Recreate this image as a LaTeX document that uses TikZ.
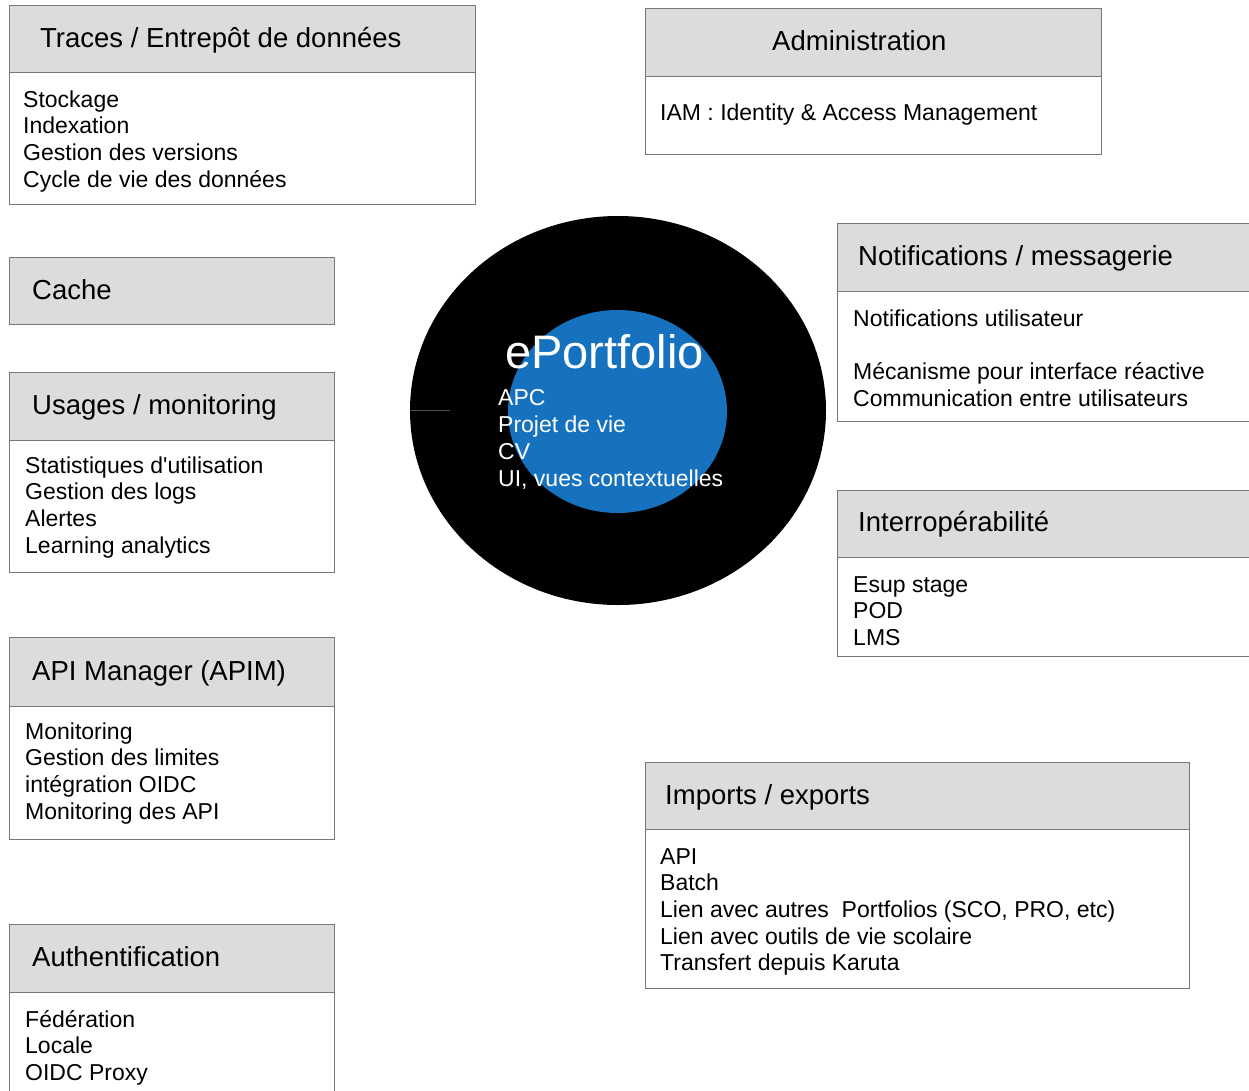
\documentclass[tikz,border=0pt]{standalone}
\usepackage{fontspec}
\setmainfont{Liberation Sans}
\usetikzlibrary{shapes.geometric}
\definecolor{hdrgray}{RGB}{220,220,220}
\definecolor{edgegray}{RGB}{120,120,120}
\definecolor{coreblue}{RGB}{22,114,190}
\tikzset{
  hdrbox/.style={draw=edgegray, fill=hdrgray, line width=1.3pt, anchor=north west, inner sep=0pt},
  bodybox/.style={draw=edgegray, fill=white, line width=1.3pt, anchor=north west, inner sep=0pt},
  hdrtext/.style={anchor=base west, inner sep=0pt, font=\fontsize{27.5}{33}\selectfont, text=black},
  bodytext/.style={anchor=base west, inner sep=0pt, align=left, font=\fontsize{23}{26.7}\selectfont, text=black},
}
\begin{document}
\begin{tikzpicture}[x=1pt,y=-1pt]
\useasboundingbox (0,0) rectangle (1249,1090);
\clip (0,0) rectangle (1249,1090);
\fill[white] (0,0) rectangle (1249,1090);

% Traces
\node[bodybox, minimum width=466pt, minimum height=199pt] (tracesbox) at (9,5) {};
\node[hdrbox, minimum width=466pt, minimum height=67pt] (tracesh) at (9,5) {};
\node[hdrtext] (tracest) at (40,47) {Traces / Entrepôt de données};
\node[bodytext] (tracesb) at (23,187.1) {Stockage\\Indexation\\Gestion des versions\\Cycle de vie des données};

% Administration
\node[bodybox, minimum width=456pt, minimum height=146pt] (adminbox) at (645,8) {};
\node[hdrbox, minimum width=456pt, minimum height=68pt] (adminh) at (645,8) {};
\node[hdrtext] (admint) at (772,50) {Administration};
\node[bodytext] (adminb) at (660,120) {IAM : Identity \& Access Management};

% Cache
\node[hdrbox, minimum width=325pt, minimum height=67pt] (cacheh) at (9,257) {};
\node[hdrtext] (cachet) at (32,299) {Cache};

% Usages
\node[bodybox, minimum width=325pt, minimum height=200pt] (usagesbox) at (9,372) {};
\node[hdrbox, minimum width=325pt, minimum height=68pt] (usagesh) at (9,372) {};
\node[hdrtext] (usagest) at (32,414) {Usages / monitoring};
\node[bodytext] (usagesb) at (25,553.1) {Statistiques d\textquotesingle utilisation\\Gestion des logs\\Alertes\\Learning analytics};

% API Manager
\node[bodybox, minimum width=325pt, minimum height=202pt] (apibox) at (9,637) {};
\node[hdrbox, minimum width=325pt, minimum height=69pt] (apih) at (9,637) {};
\node[hdrtext] (apit) at (32,680) {API Manager (APIM)};
\node[bodytext] (apib) at (25,819.1) {Monitoring\\Gestion des limites\\intégration OIDC\\Monitoring des API};

% Authentification
\node[bodybox, minimum width=325pt, minimum height=200pt] (authbox) at (9,924) {};
\node[hdrbox, minimum width=325pt, minimum height=68pt] (authh) at (9,924) {};
\node[hdrtext] (autht) at (32,966) {Authentification};
\node[bodytext] (authb) at (25,1080.4) {Fédération\\Locale\\OIDC Proxy};

% Notifications
\node[bodybox, minimum width=440pt, minimum height=198pt] (notifbox) at (837,223) {};
\node[hdrbox, minimum width=440pt, minimum height=68pt] (notifh) at (837,223) {};
\node[hdrtext] (notift) at (858,265) {Notifications / messagerie};
\node[bodytext] (notifb) at (853,406) {Notifications utilisateur\\[26.6pt]Mécanisme pour interface réactive\\Communication entre utilisateurs};

% Interoperabilite
\node[bodybox, minimum width=440pt, minimum height=166pt] (interbox) at (837,490) {};
\node[hdrbox, minimum width=440pt, minimum height=67pt] (interh) at (837,490) {};
\node[hdrtext] (intert) at (858,531) {Interropérabilité};
\node[bodytext] (interb) at (853,645.4) {Esup stage\\POD\\LMS};

% Imports / exports
\node[bodybox, minimum width=544pt, minimum height=226pt] (impbox) at (645,762) {};
\node[hdrbox, minimum width=544pt, minimum height=67pt] (imph) at (645,762) {};
\node[hdrtext] (impt) at (665,804) {Imports / exports};
\node[bodytext] (impb) at (660,970.8) {API\\Batch\\Lien avec autres~ Portfolios (SCO, PRO, etc)\\Lien avec outils de vie scolaire\\Transfert depuis Karuta};

% ePortfolio core
\node[ellipse, fill=black, minimum width=416pt, minimum height=389pt, inner sep=0pt] (outer) at (618,410.5) {};
\node[ellipse, fill=coreblue, minimum width=219pt, minimum height=203pt, inner sep=0pt] (inner) at (617.5,411.5) {};
\draw[black!70, line width=0.8pt] (outer.west) -- ++(40,0) coordinate (tick);
\node[anchor=base west, inner sep=0pt, text=white, font=\fontsize{47}{56}\selectfont] (coret) at (505,368) {ePortfolio};
\node[anchor=base west, inner sep=0pt, align=left, text=white, font=\fontsize{23}{27}\selectfont] (coreb) at (498,486) {APC\\Projet de vie\\CV\\UI, vues contextuelles};
\end{tikzpicture}
\end{document}
